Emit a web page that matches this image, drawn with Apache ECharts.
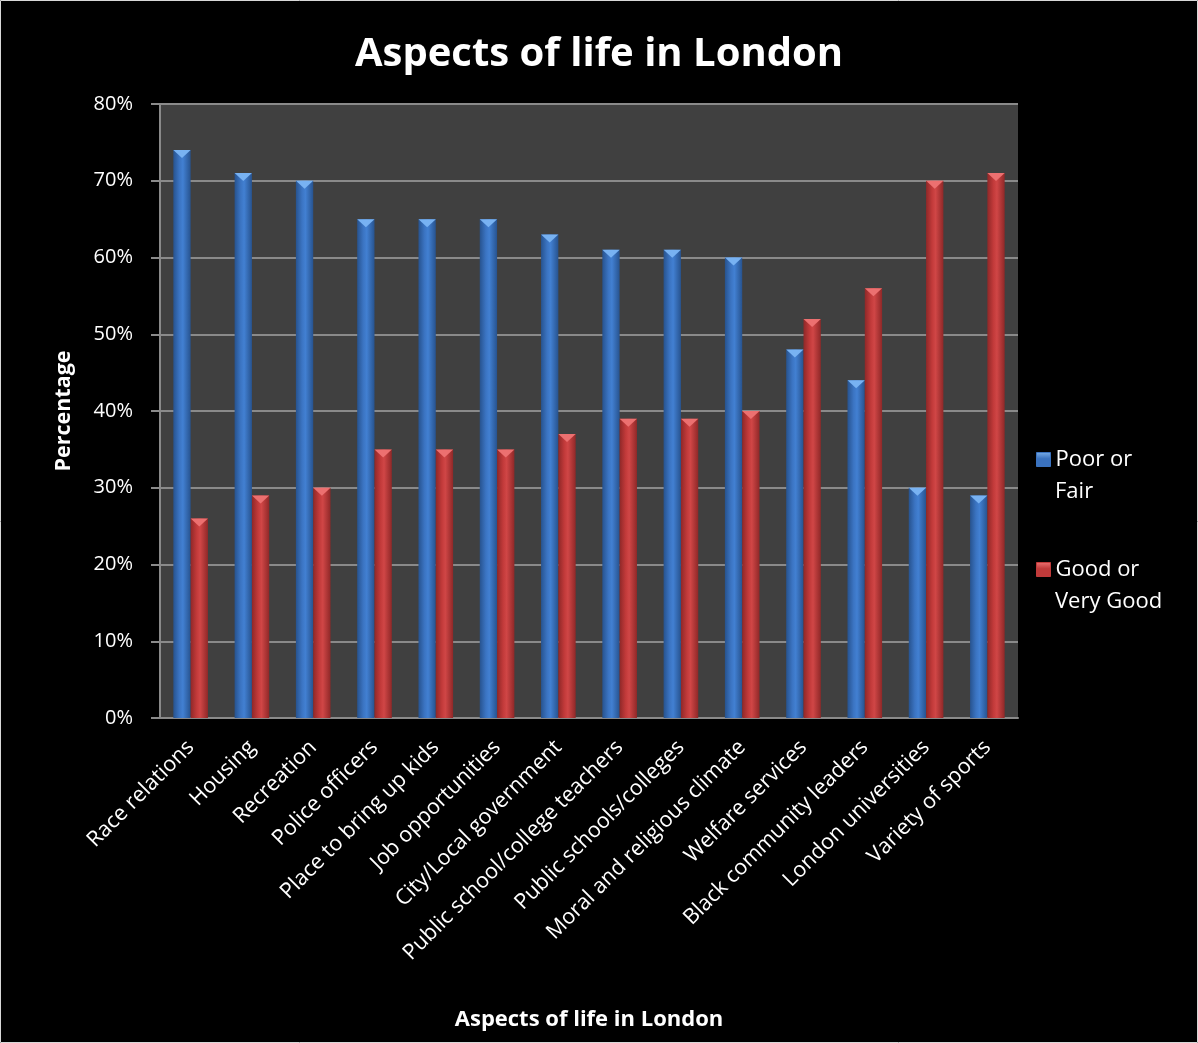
<!DOCTYPE html>
<html>
<head>
<meta charset="utf-8">
<title>Aspects of life in London</title>
<script src="https://cdn.jsdelivr.net/npm/echarts@6/dist/echarts.min.js"></script>
<style>
  html, body { margin: 0; padding: 0; background: #000; }
  #chart { width: 1198px; height: 1043px; }
</style>
</head>
<body>
<div id="chart"></div>
<script>
// Survey categories and the share of answers in each rating group (%)
const categories = [
  'Race relations', 'Housing', 'Recreation', 'Police officers',
  'Place to bring up kids', 'Job opportunities', 'City/Local government',
  'Public school/college teachers', 'Public schools/colleges',
  'Moral and religious climate', 'Welfare services',
  'Black community leaders', 'London universities', 'Variety of sports'
];
const poorOrFair = [74, 71, 70, 65, 65, 65, 63, 61, 61, 60, 48, 44, 30, 29];
const goodOrVeryGood = [26, 29, 30, 35, 35, 35, 37, 39, 39, 40, 52, 56, 70, 71];
const yTicks = [0, 10, 20, 30, 40, 50, 60, 70, 80];

const FONT = '"Open Sans", "Noto Sans", sans-serif';

function cylinder(dark, mid, light) {
  return new echarts.graphic.LinearGradient(0, 0, 1, 0, [
    { offset: 0, color: dark },
    { offset: 0.35, color: mid },
    { offset: 0.55, color: light },
    { offset: 1, color: dark }
  ]);
}
const blueFill = cylinder('#27538f', '#3b74c2', '#4280d2');
const redFill = cylinder('#8f2828', '#c23a3a', '#d04646');

// bevelled square used as the legend key
function keyIcon(base, hi) {
  return new echarts.graphic.LinearGradient(0, 0, 0, 1, [
    { offset: 0, color: hi },
    { offset: 0.45, color: base },
    { offset: 1, color: base }
  ]);
}

const legendText = { color: '#fff', fontFamily: FONT, fontSize: 22, lineHeight: 33 };
function legendFor(name, top, base, hi) {
  return {
    data: [{ name: name, itemStyle: { color: keyIcon(base, hi), borderColor: base, borderWidth: 1 } }],
    left: 1031,
    top: top,
    itemWidth: 14,
    itemHeight: 14,
    icon: 'rect',
    formatter: function (n) { return n.split(' ').slice(0, 2).join(' '); },
    textStyle: legendText
  };
}

const chart = echarts.init(document.getElementById('chart'));
chart.setOption({
  backgroundColor: '#000',
  animation: false,
  title: {
    text: 'Aspects of life in London',
    left: 'center',
    top: 30,
    textStyle: { color: '#fff', fontFamily: FONT, fontWeight: 'bold', fontSize: 40 }
  },
  legend: [
    legendFor('Poor or Fair', 438, '#3a72bf', '#7aaee8'),
    legendFor('Good or Very Good', 548, '#c03a3a', '#ee7272')
  ],
  grid: { left: 160, right: 180, top: 104, bottom: 325, show: true, backgroundColor: '#404040', borderWidth: 0 },
  xAxis: {
    type: 'category',
    data: categories,
    name: 'Aspects of life in London',
    nameLocation: 'middle',
    nameGap: 291,
    nameTextStyle: { color: '#fff', fontFamily: FONT, fontWeight: 'bold', fontSize: 22 },
    axisLine: { lineStyle: { color: '#8a8a8a', width: 2 } },
    axisTick: { show: false },
    axisLabel: { color: '#fff', fontFamily: FONT, fontSize: 21.5, rotate: 45, interval: 0, margin: 26 }
  },
  yAxis: {
    type: 'value',
    min: yTicks[0],
    max: yTicks[yTicks.length - 1],
    interval: 10,
    name: 'Percentage',
    nameLocation: 'middle',
    nameGap: 85,
    nameTextStyle: { color: '#fff', fontFamily: FONT, fontWeight: 'bold', fontSize: 21.5 },
    axisLine: { show: true, lineStyle: { color: '#8a8a8a', width: 2 } },
    axisTick: { show: true, length: 9, lineStyle: { color: '#8a8a8a', width: 2 } },
    splitLine: { lineStyle: { color: '#8a8a8a', width: 2 } },
    axisLabel: { color: '#fff', fontFamily: FONT, fontSize: 20, margin: 27, formatter: '{value}%' }
  },
  series: [
    {
      name: 'Poor or Fair',
      type: 'bar',
      data: poorOrFair,
      barGap: '0%',
      barCategoryGap: '43.5%',
      itemStyle: { color: blueFill }
    },
    {
      name: 'Good or Very Good',
      type: 'bar',
      data: goodOrVeryGood,
      itemStyle: { color: redFill }
    },
    // bevelled caps on the bar tops
    {
      name: 'capBlue',
      type: 'pictorialBar',
      data: poorOrFair,
      symbol: 'path://M0,0 L10,0 L5,5 Z',
      symbolSize: [17.3, 8],
      symbolPosition: 'end',
      symbolOffset: ['-50%', 0],
      z: 3,
      silent: true,
      itemStyle: { color: '#78b2f2' }
    },
    {
      name: 'capRed',
      type: 'pictorialBar',
      data: goodOrVeryGood,
      symbol: 'path://M0,0 L10,0 L5,5 Z',
      symbolSize: [17.3, 8],
      symbolPosition: 'end',
      symbolOffset: ['50%', 0],
      z: 3,
      silent: true,
      itemStyle: { color: '#ec7070' }
    }
  ],
  graphic: [
    // second lines of the two legend entries
    { type: 'text', left: 1055, top: 481, silent: true,
      style: { text: 'Fair', fill: '#fff', font: '22px ' + FONT } },
    { type: 'text', left: 1055, top: 591, silent: true,
      style: { text: 'Very Good', fill: '#fff', font: '22px ' + FONT } },
    { type: 'rect', silent: true,
      shape: { x: 0.5, y: 0.5, width: 1197, height: 1042 },
      style: { fill: 'none', stroke: '#d8d8d8', lineWidth: 1 } }
  ]
});
</script>
</body>
</html>
